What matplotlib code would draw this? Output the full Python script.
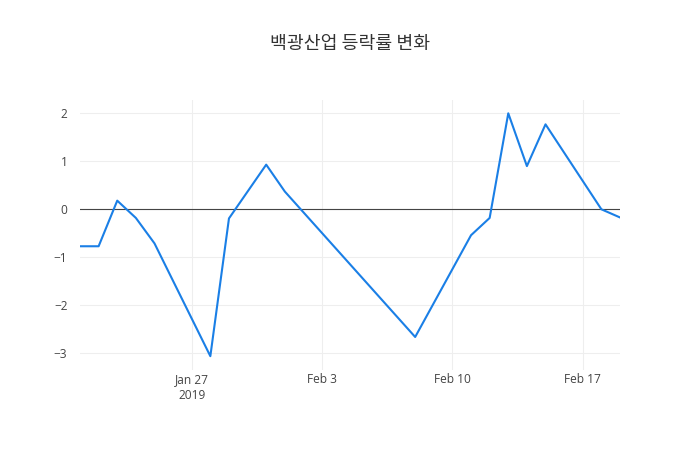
import matplotlib
matplotlib.use('Agg')
import matplotlib.pyplot as plt
import pandas as pd

# 날짜와 등락률 (%)
dates = ['2019-01-21', '2019-01-22', '2019-01-23', '2019-01-24', '2019-01-25',
         '2019-01-28', '2019-01-29', '2019-01-31', '2019-02-01', '2019-02-08',
         '2019-02-11', '2019-02-12', '2019-02-13', '2019-02-14', '2019-02-15',
         '2019-02-18', '2019-02-19']
changes = [-0.77, -0.77, 0.18, -0.18, -0.71,
           -3.06, -0.19, 0.93, 0.37, -2.66,
           -0.54, -0.18, 2.0, 0.90, 1.77,
           0.0, -0.17]

yticks = [-3, -2, -1, 0, 1, 2]
xticks = ['2019-01-27', '2019-02-03', '2019-02-10', '2019-02-17']
xticklabels = ['Jan 27\n2019', 'Feb 3', 'Feb 10', 'Feb 17']

x = pd.to_datetime(dates)

plt.rcParams['font.family'] = ['Open Sans', 'Noto Sans CJK KR', 'DejaVu Sans']

fig = plt.figure(figsize=(7, 4.5), dpi=100)
ax = fig.add_axes([80 / 700, 80 / 450, 540 / 700, 270 / 450])

ax.plot(x, changes, color='#1a7fe6', linewidth=1.5, zorder=3)
ax.axhline(0, color='#444444', linewidth=0.8, zorder=2)

ax.set_xlim(x[0], x[-1])
ax.set_ylim(-3.348, 2.277)

ax.set_yticks(yticks)
ax.set_yticklabels([str(v).replace('-', '\u2212') for v in yticks])
ax.set_xticks(pd.to_datetime(xticks))
ax.set_xticklabels(xticklabels, linespacing=1.3)

ax.grid(True, color='#eeeeee', linewidth=0.8, zorder=0)
ax.set_axisbelow(True)
for s in ax.spines.values():
    s.set_visible(False)
ax.tick_params(length=0, labelsize=8.6, colors='#444444')
ax.tick_params(axis='x', pad=2)
ax.tick_params(axis='y', pad=9)

# 제목
fig.text(0.5, 1 - 44 / 450, '백광산업 등락률 변화', ha='center', va='center',
         fontsize=13.2, color='#333333', fontweight='medium',
         family=['Noto Sans CJK KR', 'DejaVu Sans'])

fig.savefig('out.png', dpi=100, facecolor='white')
